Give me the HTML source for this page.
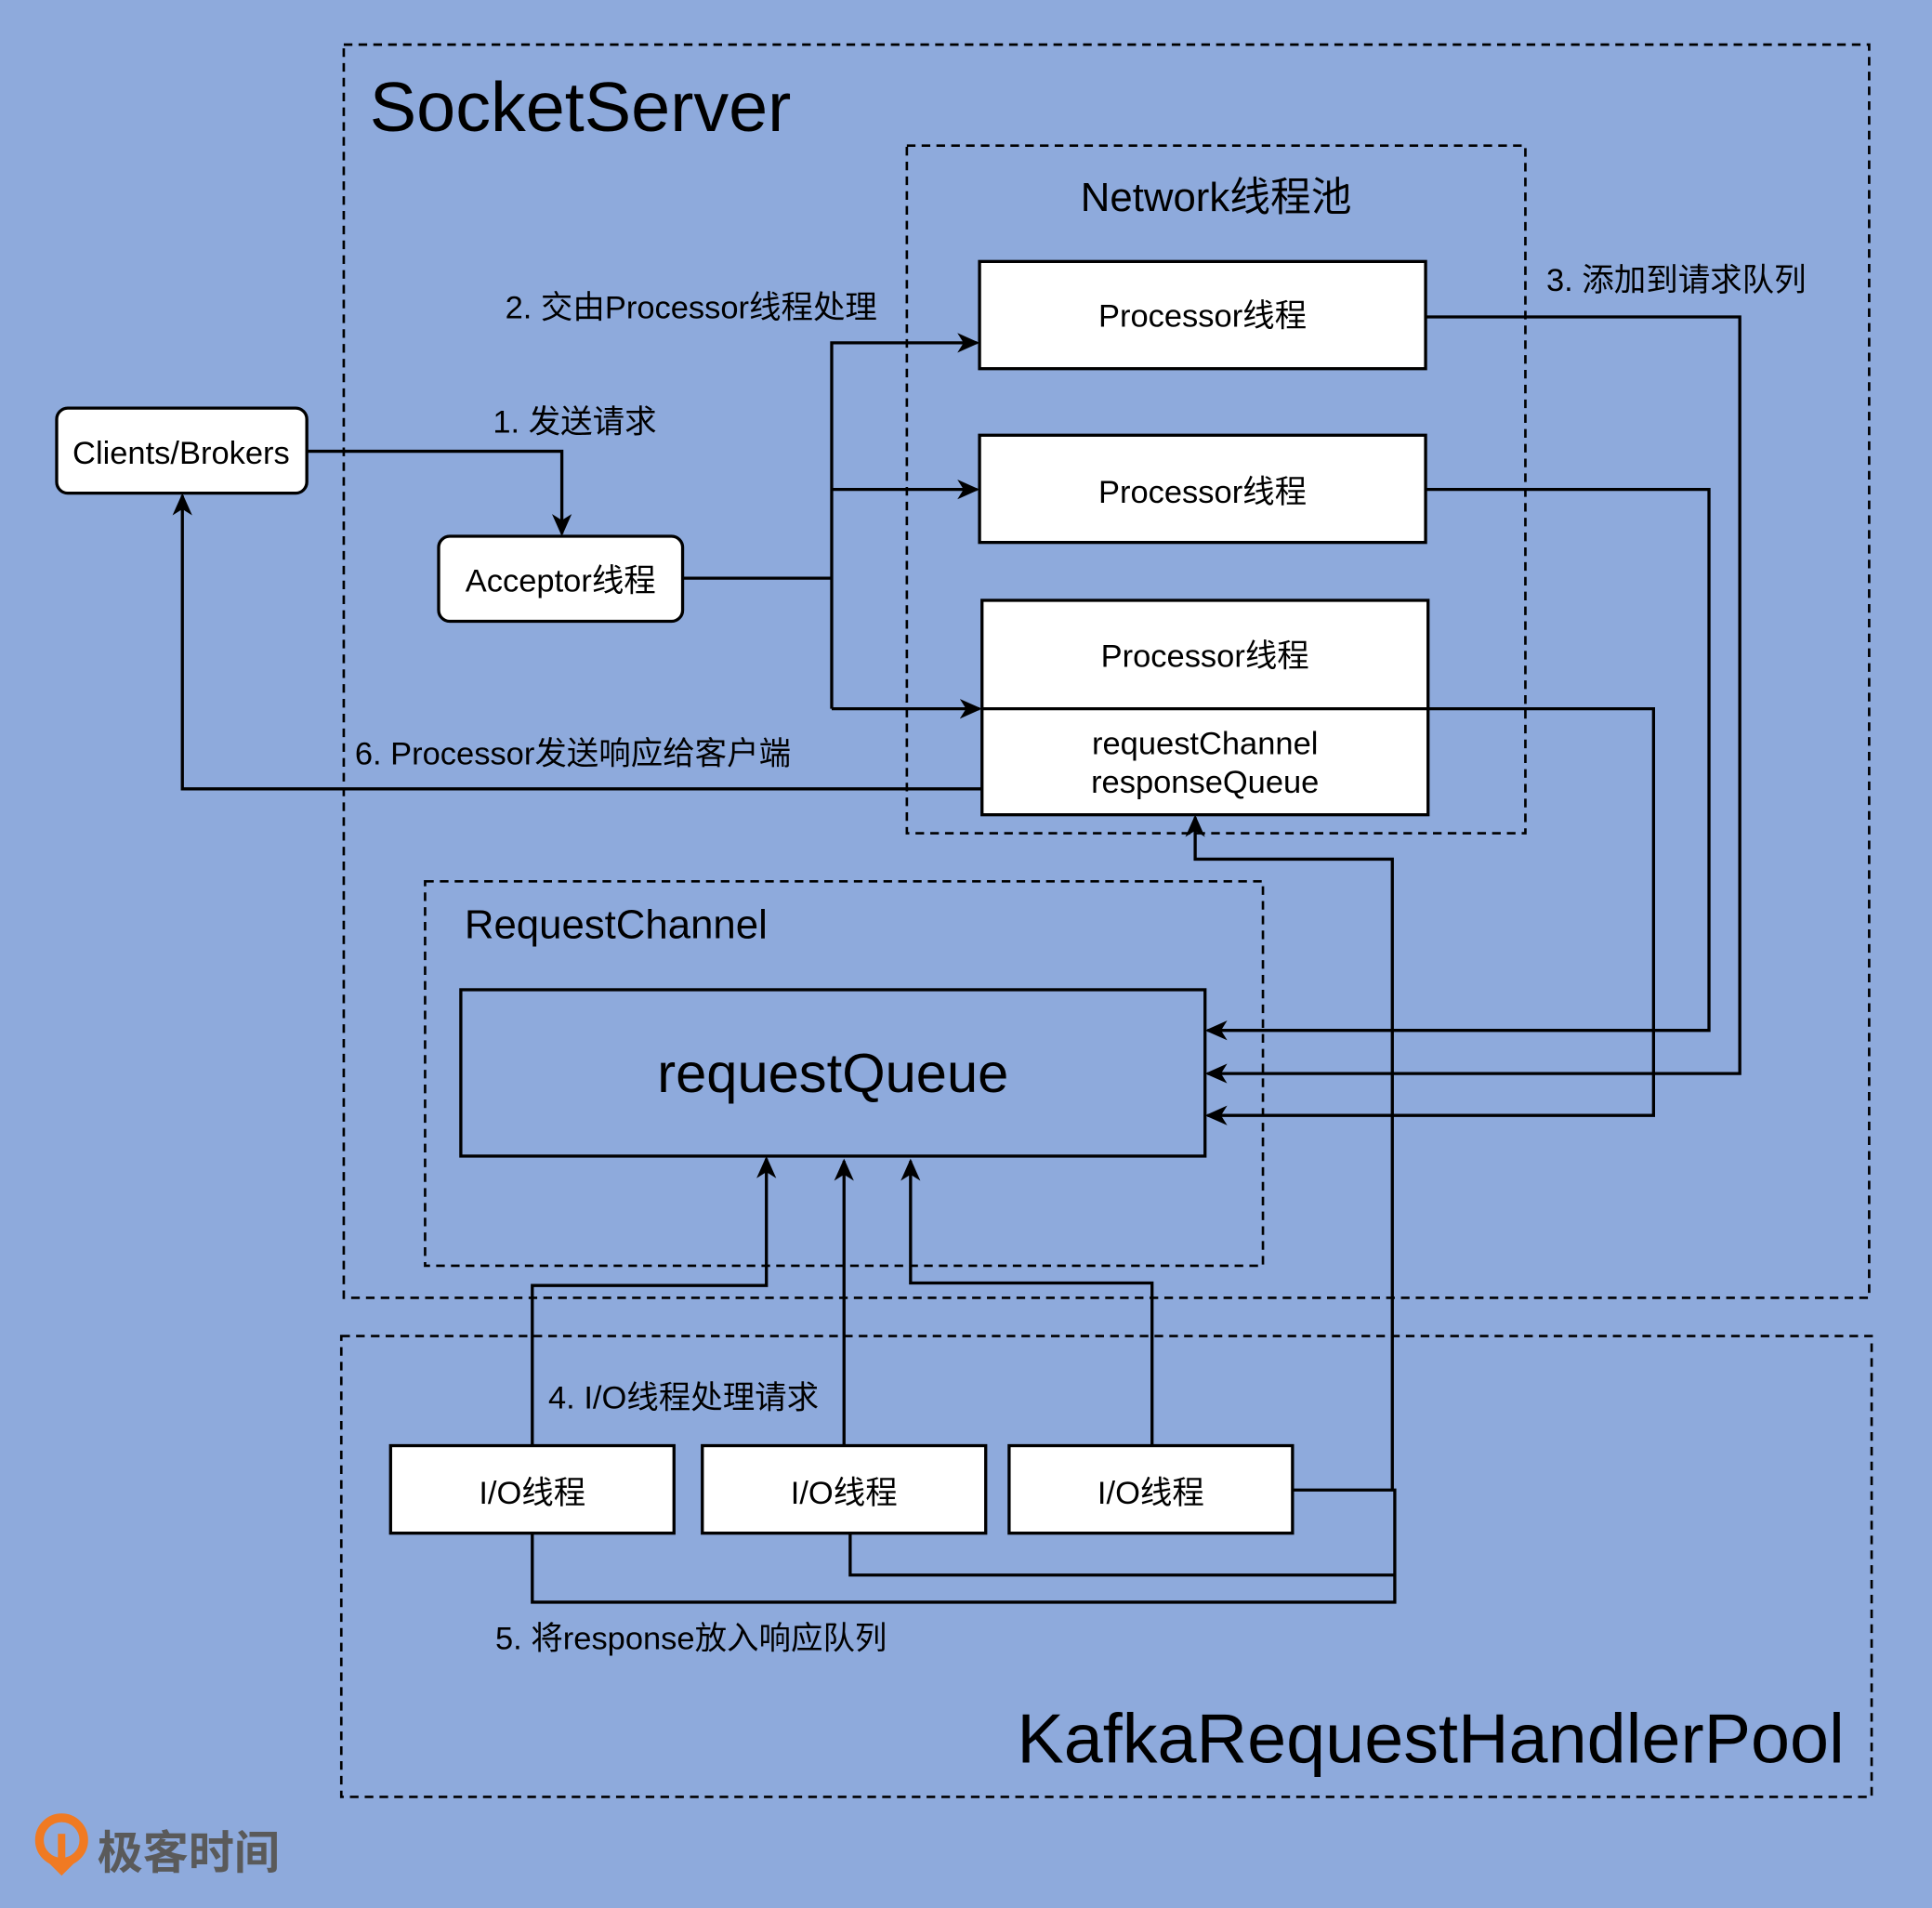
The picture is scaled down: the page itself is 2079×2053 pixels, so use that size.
<!DOCTYPE html>
<html><head><meta charset="utf-8"><style>
html,body{margin:0;padding:0;background:#8eaadc;}
svg{display:block}
text{font-family:"Liberation Sans","Noto Sans CJK SC",sans-serif;fill:#000}
</style></head><body>
<svg width="2079" height="2053" viewBox="0 0 1568 1548" xmlns="http://www.w3.org/2000/svg">
<defs>
<marker id="a" markerWidth="18" markerHeight="18" refX="16" refY="9" orient="auto" markerUnits="userSpaceOnUse" viewBox="0 0 18 18">
<path d="M0,1 L18,9 L0,17 L5,9 z" fill="#000"/>
</marker>
</defs>
<rect width="1568" height="1548" fill="#8eaadc"/>
<g fill="none" stroke="#000" stroke-width="2" stroke-dasharray="7,5">
<rect x="279" y="36" width="1238" height="1017"/>
<rect x="736" y="118" width="502" height="558"/>
<rect x="345" y="715" width="680" height="312"/>
<rect x="277" y="1084" width="1242" height="374"/>
</g>
<text x="300" y="106" font-size="57">SocketServer</text>
<text x="987" y="171" font-size="33" text-anchor="middle">Network线程池</text>
<text x="377" y="761" font-size="33">RequestChannel</text>
<text x="1497" y="1430" font-size="57" text-anchor="end">KafkaRequestHandlerPool</text>

<g stroke="#000" stroke-width="2.5" fill="#fff">
<rect x="795" y="212" width="362" height="87"/>
<rect x="795" y="353" width="362" height="87"/>
<rect x="797" y="487" width="362" height="174"/>
<line x1="797" y1="575" x2="1159" y2="575"/>
<rect x="46" y="331" width="203" height="69" rx="9"/>
<rect x="356" y="435" width="198" height="69" rx="9"/>
<rect x="317" y="1173" width="230" height="71"/>
<rect x="570" y="1173" width="230" height="71"/>
<rect x="819" y="1173" width="230" height="71"/>
</g>
<rect x="374" y="803" width="604" height="135" fill="none" stroke="#000" stroke-width="2.5"/>

<g font-size="26" text-anchor="middle">
<text x="976" y="265">Processor线程</text>
<text x="976" y="408">Processor线程</text>
<text x="978" y="541">Processor线程</text>
<text x="978" y="612">requestChannel</text>
<text x="978" y="643">responseQueue</text>
<text x="147" y="376">Clients/Brokers</text>
<text x="455" y="480">Acceptor线程</text>
<text x="432" y="1220">I/O线程</text>
<text x="685" y="1220">I/O线程</text>
<text x="934" y="1220">I/O线程</text>
</g>
<text x="676" y="886" font-size="45" text-anchor="middle">requestQueue</text>

<g font-size="26">
<text x="400" y="351">1. 发送请求</text>
<text x="410" y="258">2. 交由Processor线程处理</text>
<text x="1255" y="236">3. 添加到请求队列</text>
<text x="445" y="1143">4. I/O线程处理请求</text>
<text x="402" y="1338">5. 将response放入响应队列</text>
<text x="288" y="620">6. Processor发送响应给客户端</text>
</g>

<g fill="none" stroke="#000" stroke-width="2.5">
<polyline points="249,366 456,366 456,433" marker-end="url(#a)"/>
<polyline points="554,469 675,469"/>
<polyline points="675,575 675,278 793,278" marker-end="url(#a)"/>
<polyline points="675,397 793,397" marker-end="url(#a)"/>
<polyline points="675,575 795,575" marker-end="url(#a)"/>
<polyline points="1157,257 1412,257 1412,871 980,871" marker-end="url(#a)"/>
<polyline points="1157,397 1387,397 1387,836 980,836" marker-end="url(#a)"/>
<polyline points="1159,575 1342,575 1342,905 980,905" marker-end="url(#a)"/>
<polyline points="797,640 148,640 148,402" marker-end="url(#a)"/>
<polyline points="432,1173 432,1043 622,1043 622,940" marker-end="url(#a)"/>
<polyline points="685,1173 685,942" marker-end="url(#a)"/>
<polyline points="935,1173 935,1041 739,1041 739,942" marker-end="url(#a)"/>
<polyline points="1049,1209 1132,1209 1132,1300 432,1300 432,1244"/>
<polyline points="690,1244 690,1278 1132,1278"/>
<polyline points="1130,1209 1130,697 970,697 970,663" marker-end="url(#a)"/>
</g>

<g>
<circle cx="50" cy="1493" r="18" fill="none" stroke="#f07a22" stroke-width="7"/>
<path d="M40,1512 L60,1512 L50,1522 z" fill="#f07a22"/>
<rect x="47" y="1488" width="6" height="20" fill="#f07a22"/>
<text x="79" y="1516" font-size="37" style="fill:#5a5a5a" font-weight="bold">极客时间</text>
</g>
</svg>
</body></html>
